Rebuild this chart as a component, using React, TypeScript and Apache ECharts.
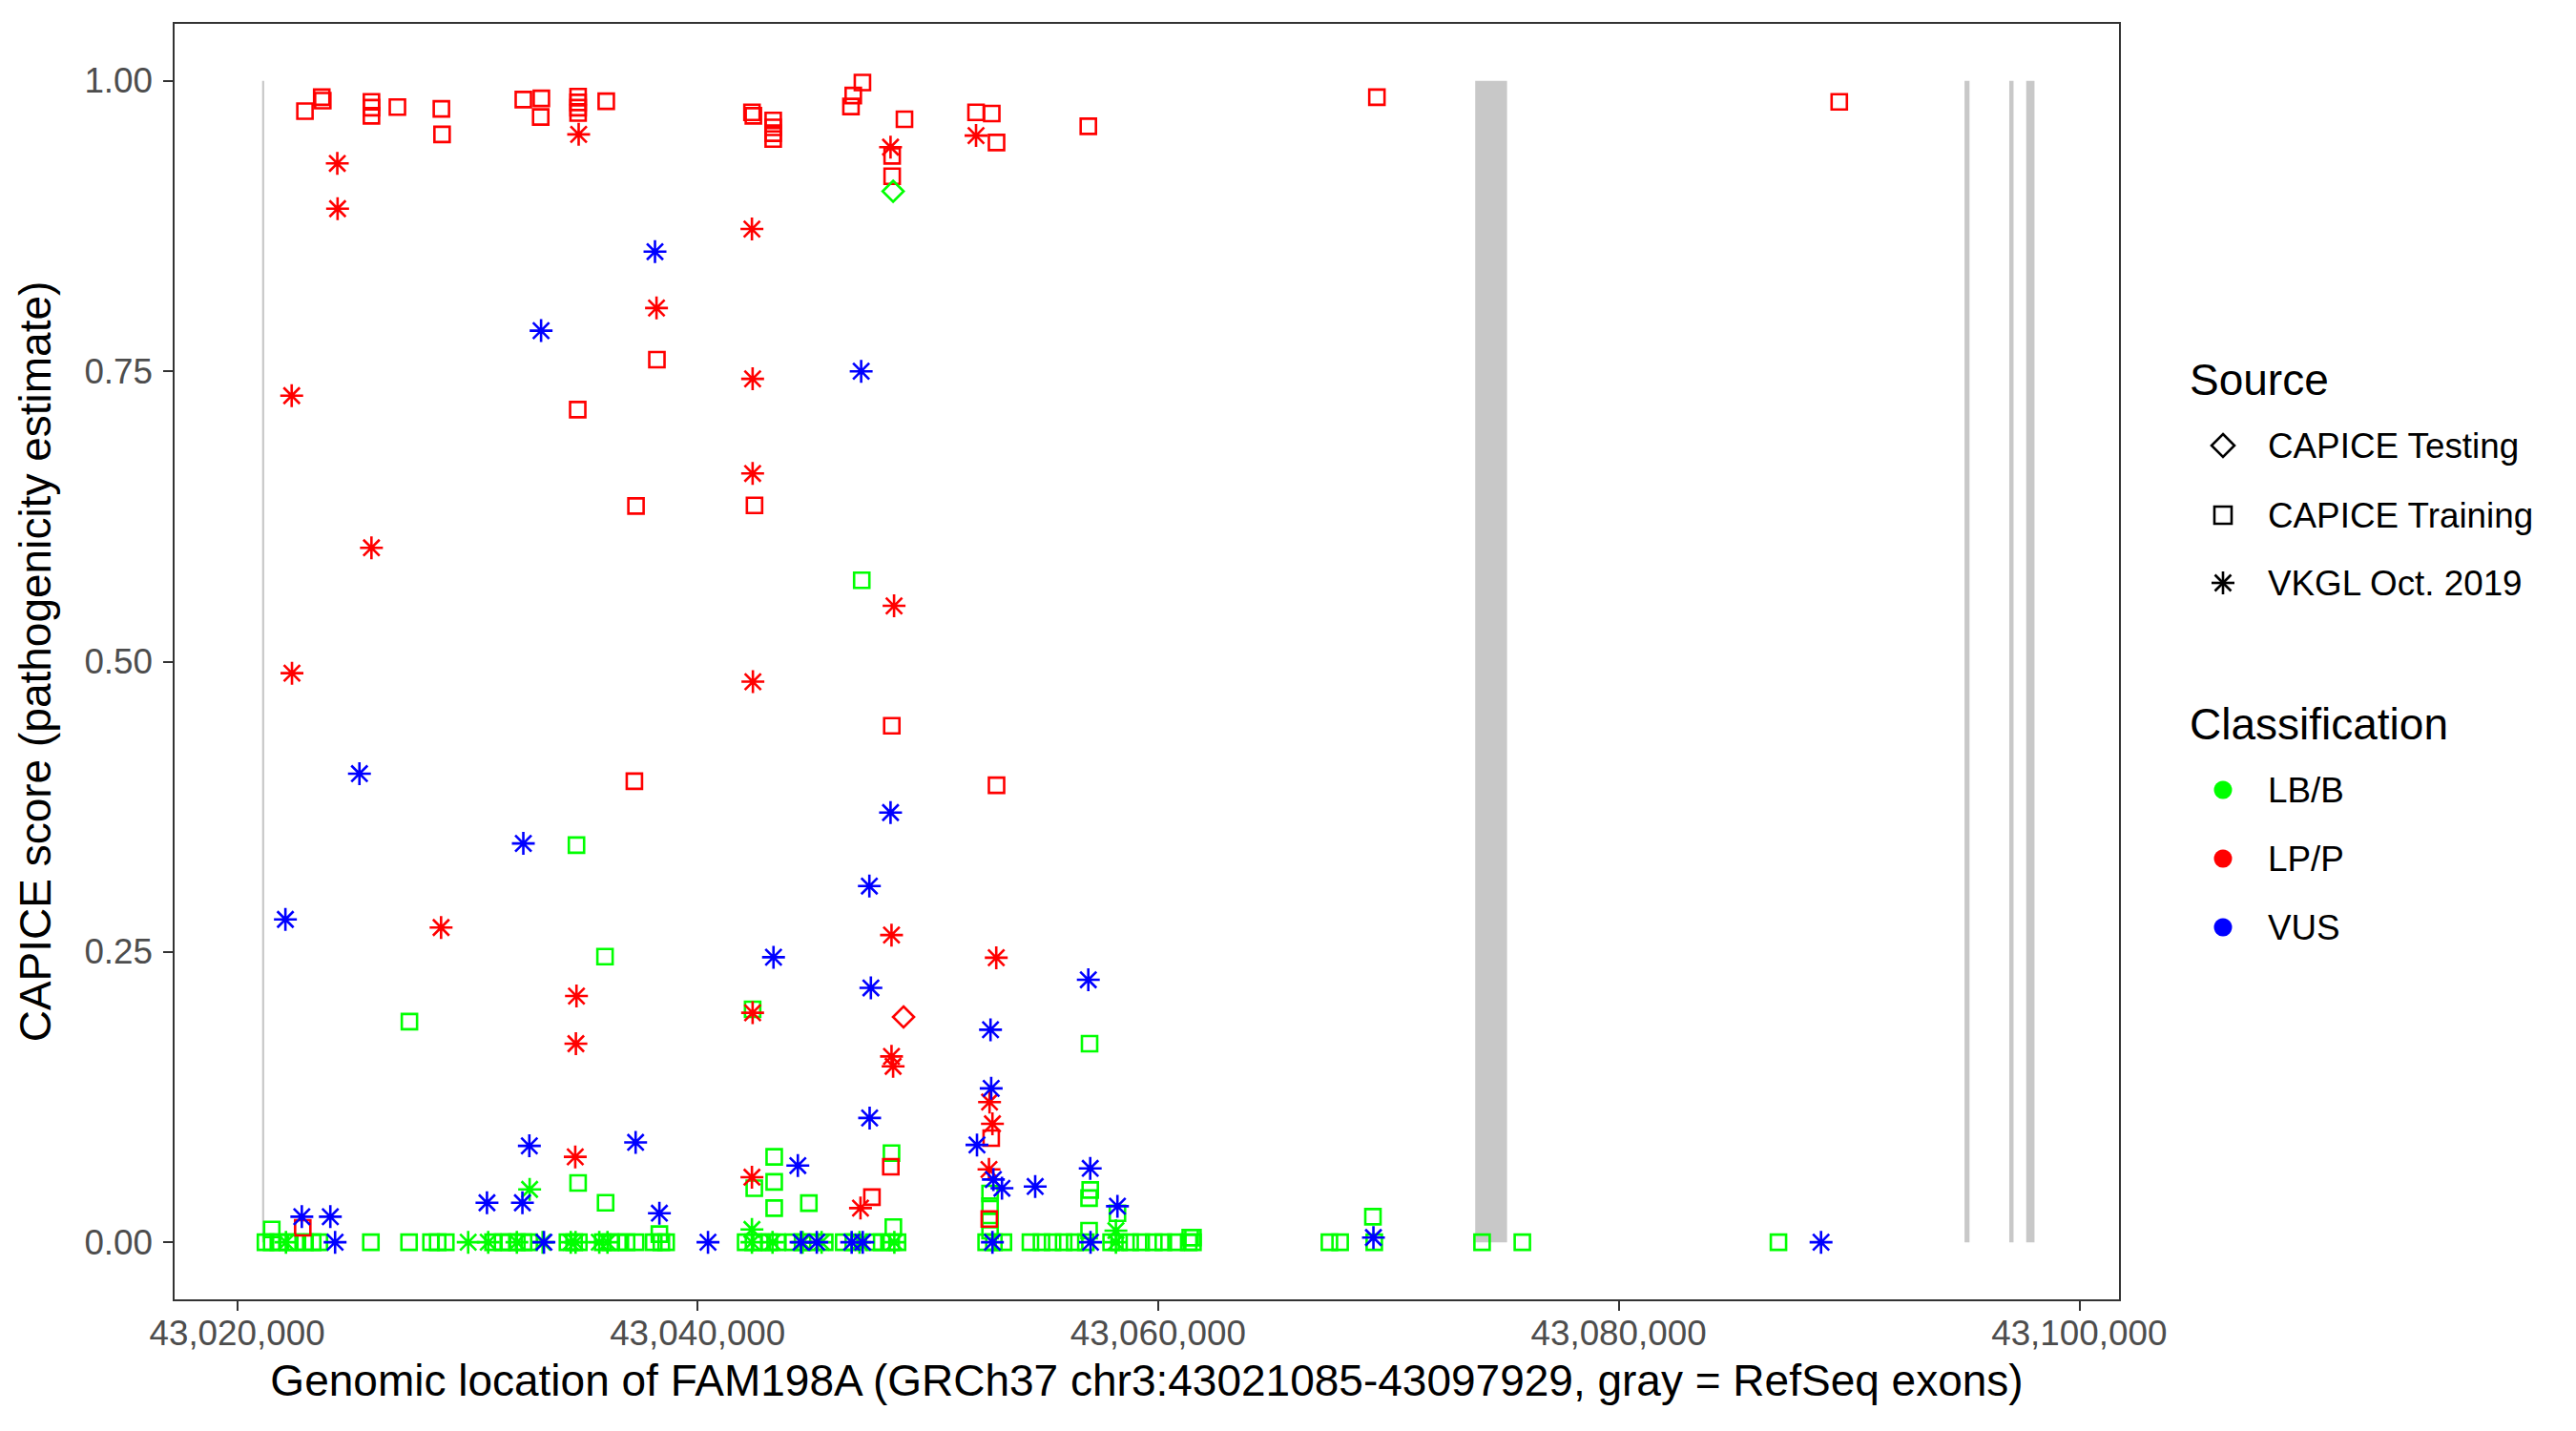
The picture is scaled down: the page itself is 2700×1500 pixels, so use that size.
import React, { useEffect, useRef } from 'react';
import * as echarts from 'echarts';

const W = 2700;
const H = 1500;
const FONT = '"Liberation Sans", Arial, Helvetica, sans-serif';
const TITLE_SIZE = 46;
const TEXT_SIZE = 36.8;

// axes
const xRange = [43017243, 43101771];
const yRange = [-0.05, 1.05];
const xTicks = [43020000, 43040000, 43060000, 43080000, 43100000];
const yTicks = [0, 0.25, 0.5, 0.75, 1];

const xTitle = 'Genomic location of FAM198A (GRCh37 chr3:43021085-43097929, gray = RefSeq exons)';
const yTitle = 'CAPICE score (pathogenicity estimate)';

// legend
const sourceTitle = 'Source';
const sourceNames = ['CAPICE Testing', 'CAPICE Training', 'VKGL Oct. 2019'];
const classTitle = 'Classification';
const classNames = ['LB/B', 'LP/P', 'VUS'];
const classColors = ['#00FF00', '#FF0000', '#0000FF'];

// RefSeq exons [start, end]
const exons = [
  [43021085, 43021150],
  [43073770, 43075153],
  [43095022, 43095238],
  [43096964, 43097150],
  [43097700, 43098060],
];

// CAPICE Testing
const testingLBB = [[43048490, 0.905]];
const testingLPP = [[43048942, 0.194]];

// CAPICE Training, LP/P
const trainingLPP = [
  [43022946, 0.974], [43023675, 0.986], [43023720, 0.983], [43025834, 0.982], [43025834, 0.977],
  [43025834, 0.970], [43026961, 0.9775], [43028871, 0.976], [43028900, 0.954], [43032430, 0.984],
  [43033213, 0.985], [43033184, 0.969], [43034808, 0.9865], [43034808, 0.9815], [43034808, 0.977],
  [43034808, 0.9724], [43036031, 0.9825], [43038231, 0.760], [43034792, 0.717], [43037323, 0.634],
  [43037253, 0.397], [43042360, 0.973], [43042420, 0.970], [43043282, 0.966], [43043282, 0.960],
  [43043282, 0.955], [43043282, 0.950], [43046659, 0.978], [43046759, 0.9875], [43047157, 0.9986],
  [43048448, 0.9355], [43048448, 0.918], [43048983, 0.967], [43052091, 0.973], [43052774, 0.972],
  [43052981, 0.947], [43056967, 0.961], [43042470, 0.6345], [43048432, 0.4448], [43052981, 0.3935],
  [43052749, 0.0896], [43048390, 0.065], [43047570, 0.0388], [43052666, 0.02], [43022850, 0.0124],
  [43069500, 0.986], [43089580, 0.982],
];

// CAPICE Training, LB/B (non-zero)
const trainingLBB = [
  [43021504, 0.011], [43034738, 0.342], [43035977, 0.246], [43027483, 0.190], [43034808, 0.051],
  [43036003, 0.034], [43038339, 0.007], [43047127, 0.570], [43042388, 0.2005], [43057021, 0.171],
  [43048420, 0.0767], [43043325, 0.0735], [43043325, 0.052], [43042460, 0.0465], [43043325, 0.0294],
  [43044830, 0.0337], [43048500, 0.013], [43052700, 0.042], [43052700, 0.031], [43052700, 0.0195],
  [43052700, 0.01], [43057050, 0.045], [43057000, 0.038], [43057000, 0.01], [43058232, 0.025],
  [43061393, 0.004], [43069328, 0.022], [43061512, 0.004],
];

// CAPICE Training, LB/B positions with score ~0
const trainingLBBZero = [
  43021231, 43021500, 43021790, 43022204, 43022536, 43022950, 43023282, 43023572, 43025809,
  43027467, 43028420, 43028710, 43029062, 43031113, 43031527, 43031817, 43032149, 43032439,
  43032687, 43034345, 43034635, 43034842, 43035878, 43036209, 43036541, 43036914, 43037307,
  43038094, 43038425, 43038632, 43042085, 43042425, 43042702, 43043117, 43043460, 43044148,
  43044558, 43044902, 43045520, 43046344, 43046759, 43047645, 43047993, 43048408, 43048681,
  43052530, 43052866, 43053280, 43054453, 43054933, 43055414, 43055895, 43056375, 43056860,
  43057958, 43058302, 43058783, 43059263, 43059810, 43060225, 43060776, 43061327, 43061512,
  43067438, 43067903, 43069386, 43074067, 43075816, 43086940,
];

// VKGL, LB/B
const vkglLBB = [[43032704, 0.0455], [43042358, 0.011], [43058165, 0.01]];
const vkglLBBZero = [
  43022121, 43030035, 43030905, 43032149, 43033268, 43034490, 43034697, 43035728, 43036085,
  43042358, 43043253, 43044558, 43045383, 43047031, 43048543, 43058165,
];

// VKGL, LP/P
const vkglLPP = [
  [43024351, 0.929], [43024363, 0.890], [43038214, 0.8045], [43022370, 0.729], [43025834, 0.598],
  [43022382, 0.490], [43028858, 0.271], [43034738, 0.212], [43034713, 0.171], [43034685, 0.0735],
  [43034833, 0.954], [43042358, 0.8725], [43042388, 0.7435], [43042388, 0.662], [43042400, 0.4827],
  [43042388, 0.1976], [43042358, 0.056], [43048378, 0.943], [43048531, 0.548], [43048420, 0.2645],
  [43048420, 0.160], [43048490, 0.1515], [43047073, 0.0294], [43052091, 0.953], [43052969, 0.245],
  [43052678, 0.1207], [43052803, 0.102], [43052653, 0.0627],
];

// VKGL, VUS
const vkglVUS = [
  [43038148, 0.853], [43033201, 0.785], [43047102, 0.750], [43025312, 0.4035], [43032430, 0.3434],
  [43022097, 0.278], [43048378, 0.370], [43047458, 0.3067], [43043295, 0.2454], [43047524, 0.219],
  [43056967, 0.226], [43052720, 0.183], [43052749, 0.1325], [43047470, 0.107], [43052132, 0.0838],
  [43032691, 0.083], [43037307, 0.086], [43044352, 0.066], [43057050, 0.0636], [43052844, 0.054],
  [43053217, 0.0465], [43054660, 0.048], [43030851, 0.034], [43032390, 0.034], [43038339, 0.025],
  [43058232, 0.031], [43022810, 0.022], [43024048, 0.022], [43069350, 0.004],
];
const vkglVUSZero = [
  43024255, 43033325, 43040450, 43044490, 43045175, 43046690, 43047170, 43052803, 43057063, 43088789,
];

const ASTERISK = 'path://M50 0L50 100M0 50L100 50M14.64 14.64L85.36 85.36M14.64 85.36L85.36 14.64';
const SYMBOLS = ['diamond', 'rect', ASTERISK];
const SYMBOL_SIZES = [22, 16, 24];
const STROKE = 2.6;

const fmtX = (v: number) => String(Math.round(v)).replace(/\B(?=(\d{3})+(?!\d))/g, ',');

function scatter(data: number[][], srcIdx: number, clsIdx: number) {
  return {
    type: 'scatter',
    data,
    symbol: SYMBOLS[srcIdx],
    symbolSize: SYMBOL_SIZES[srcIdx],
    silent: true,
    z: 3,
    itemStyle: {
      color: 'rgba(0,0,0,0)',
      borderColor: classColors[clsIdx],
      borderWidth: STROKE,
      opacity: 1,
    },
    emphasis: { disabled: true },
  };
}

function legendGraphics() {
  const els: any[] = [];
  const keyX = 2330;
  const textX = 2377;
  els.push({
    type: 'text', x: 2295, y: 398,
    style: { text: sourceTitle, fontSize: TITLE_SIZE, fontFamily: FONT, fill: '#000', align: 'left', verticalAlign: 'middle' },
  });
  const srcY = [467, 540, 611];
  const black = { fill: 'none', stroke: '#000', lineWidth: STROKE };
  els.push({
    type: 'polygon',
    shape: { points: [[keyX, srcY[0] - 12], [keyX + 12, srcY[0]], [keyX, srcY[0] + 12], [keyX - 12, srcY[0]]] },
    style: black,
  });
  els.push({ type: 'rect', shape: { x: keyX - 9, y: srcY[1] - 9, width: 18, height: 18 }, style: black });
  const r = 12;
  const d = r * Math.SQRT1_2;
  const cy = srcY[2];
  [[0, -r, 0, r], [-r, 0, r, 0], [-d, -d, d, d], [-d, d, d, -d]].forEach((l) => {
    els.push({
      type: 'line',
      shape: { x1: keyX + l[0], y1: cy + l[1], x2: keyX + l[2], y2: cy + l[3] },
      style: { stroke: '#000', lineWidth: STROKE },
    });
  });
  sourceNames.forEach((n, i) => {
    els.push({
      type: 'text', x: textX, y: srcY[i],
      style: { text: n, fontSize: TEXT_SIZE, fontFamily: FONT, fill: '#000', align: 'left', verticalAlign: 'middle' },
    });
  });
  els.push({
    type: 'text', x: 2295, y: 759,
    style: { text: classTitle, fontSize: TITLE_SIZE, fontFamily: FONT, fill: '#000', align: 'left', verticalAlign: 'middle' },
  });
  const clsY = [828, 900, 972];
  classNames.forEach((n, i) => {
    els.push({ type: 'circle', shape: { cx: keyX, cy: clsY[i], r: 9.5 }, style: { fill: classColors[i] } });
    els.push({
      type: 'text', x: textX, y: clsY[i],
      style: { text: n, fontSize: TEXT_SIZE, fontFamily: FONT, fill: '#000', align: 'left', verticalAlign: 'middle' },
    });
  });
  return els;
}

export default function App() {
  const ref = useRef<HTMLDivElement>(null);
  useEffect(() => {
    if (!ref.current) return;
    const chart = echarts.init(ref.current, null, { renderer: 'svg', width: W, height: H });
    const zeroPts = (xs: number[]) => xs.map((x) => [x, 0]);
    const option: any = {
      animation: false,
      backgroundColor: '#ffffff',
      textStyle: { fontFamily: FONT },
      grid: {
        left: 182, right: W - 2222, top: 24, bottom: H - 1363,
        show: true, borderColor: '#333333', borderWidth: 2, backgroundColor: '#ffffff',
        containLabel: false,
      },
      xAxis: {
        type: 'value',
        position: 'bottom',
        min: xRange[0], max: xRange[1],
        splitLine: { show: false },
        axisLine: { show: false, onZero: false },
        axisTick: { show: true, length: 11, lineStyle: { color: '#333333', width: 2 }, customValues: xTicks },
        axisLabel: {
          customValues: xTicks, formatter: fmtX, color: '#4D4D4D', fontSize: TEXT_SIZE, fontFamily: FONT, margin: 16,
        },
        name: xTitle, nameLocation: 'middle', nameGap: 61,
        nameTextStyle: { fontSize: TITLE_SIZE, color: '#000', fontFamily: FONT },
      },
      yAxis: {
        type: 'value',
        position: 'left',
        min: yRange[0], max: yRange[1],
        splitLine: { show: false },
        axisLine: { show: false, onZero: false },
        axisTick: { show: true, length: 11, lineStyle: { color: '#333333', width: 2 }, customValues: yTicks },
        axisLabel: {
          customValues: yTicks, formatter: (v: number) => v.toFixed(2), color: '#4D4D4D', fontSize: TEXT_SIZE,
          fontFamily: FONT, margin: 22,
        },
        name: yTitle, nameLocation: 'middle', nameGap: 122, nameRotate: 90,
        nameTextStyle: { fontSize: TITLE_SIZE, color: '#000', fontFamily: FONT },
      },
      series: [
        {
          type: 'custom',
          data: exons,
          silent: true,
          z: 1,
          encode: { x: [0, 1] },
          renderItem: (params: any, api: any) => {
            const p0 = api.coord([api.value(0), 1]);
            const p1 = api.coord([api.value(1), 0]);
            const w = Math.max(p1[0] - p0[0], 2.2);
            return {
              type: 'rect',
              shape: { x: p0[0], y: p0[1], width: w, height: p1[1] - p0[1] },
              style: { fill: '#C8C8C8' },
            };
          },
        },
        scatter(trainingLBB.concat(zeroPts(trainingLBBZero)), 1, 0),
        scatter(trainingLPP, 1, 1),
        scatter(vkglLBB.concat(zeroPts(vkglLBBZero)), 2, 0),
        scatter(vkglLPP, 2, 1),
        scatter(vkglVUS.concat(zeroPts(vkglVUSZero)), 2, 2),
        scatter(testingLBB, 0, 0),
        scatter(testingLPP, 0, 1),
      ],
      graphic: legendGraphics(),
    };
    chart.setOption(option);
    return () => chart.dispose();
  }, []);
  return (
    <div
      ref={ref}
      style={{ position: 'absolute', left: 0, top: 0, width: W, height: H, background: '#fff' }}
    />
  );
}
